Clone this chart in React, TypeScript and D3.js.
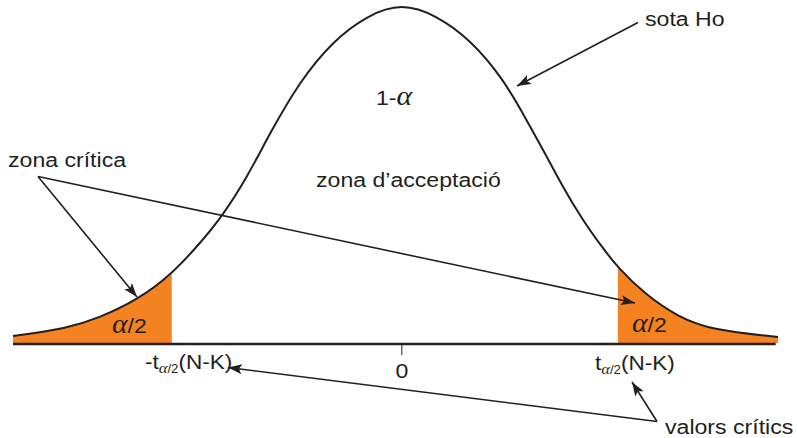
import React from "react";
import * as d3 from "d3";

// Density curve points (x in t-units, y relative to peak)
const curveX = [-3.38, -2.91, -2.63, -2.3, -2.0, -1.757, -1.565, -1.34, -1.148, -0.887, -0.6, -0.3, 0, 0.3, 0.6, 0.887, 1.096, 1.243, 1.391, 1.565, 1.739, 1.878, 2.113, 2.4, 2.696, 3.27];
const curveY = [0.003, 0.026, 0.058, 0.112, 0.19, 0.283, 0.364, 0.487, 0.617, 0.775, 0.897, 0.975, 1.012, 0.975, 0.9, 0.78, 0.65, 0.558, 0.46, 0.358, 0.273, 0.21, 0.13, 0.061, 0.021, 0.0];
const criticalLow = -2.0;
const criticalHigh = 1.878;
const tickValues = [0];
const tickLabels = ["0"];

const W = 797;
const H = 438;
const INK = "#231F20";
const ORANGE = "#F58220";
const SANS = "'Liberation Sans', Arial, Helvetica, sans-serif";
const SERIF = "'Liberation Serif', 'Times New Roman', serif";
const SX = 1.1;

type P = [number, number];

function Label({ x, y, children, anchor = "start", size = 21 }: any) {
  return (
    <g transform={`translate(${x},${y}) scale(${SX},1)`}>
      <text x={0} y={0} fontFamily={SANS} fontSize={size} fill={INK} textAnchor={anchor}>
        {children}
      </text>
    </g>
  );
}

function Arrow({ x1, y1, x2, y2 }: any) {
  return <line x1={x1} y1={y1} x2={x2} y2={y2} stroke={INK} strokeWidth={1.6} markerEnd="url(#ah)" />;
}

function CritLabel({ x, y, prefix }: any) {
  return (
    <g transform={`translate(${x},${y}) scale(${SX},1)`}>
      <text fontFamily={SANS} fontSize={20.5} fill={INK}>
        {prefix}
        <tspan dy={4} fontFamily={SERIF} fontStyle="italic" fontSize={15}>α</tspan>
        <tspan fontSize={12}>/2</tspan>
        <tspan dy={-4}>(N-K)</tspan>
      </text>
    </g>
  );
}

export default function App() {
  const x = d3.scaleLinear().domain([-3.38, 3.27]).range([13, 778]);
  const y = d3.scaleLinear().domain([0, 1]).range([337, 7]);
  const axisY = 344;

  const pts: P[] = curveX.map((v, i) => [v, curveY[i]]);
  const line = d3
    .line<P>()
    .x((d) => x(d[0]))
    .y((d) => y(d[1]))
    .curve(d3.curveBasis);
  const area = d3
    .area<P>()
    .x((d) => x(d[0]))
    .y0(axisY - 1)
    .y1((d) => y(d[1]))
    .curve(d3.curveBasis);

  const leftPts = pts.filter((d) => d[0] <= criticalLow);
  const rightPts = pts.filter((d) => d[0] >= criticalHigh);

  return (
    <svg width={W} height={H} style={{ position: "absolute", left: 0, top: 0, background: "#fff" }}>
      <defs>
        <marker id="ah" markerUnits="userSpaceOnUse" markerWidth={16} markerHeight={12} refX={14} refY={5} orient="auto">
          <path d="M0,0 L14,5 L0,10 L3,5 Z" fill={INK} />
        </marker>
      </defs>

      <path d={area(leftPts) || ""} fill={ORANGE} />
      <path d={area(rightPts) || ""} fill={ORANGE} />
      <path d={line(pts) || ""} fill="none" stroke={INK} strokeWidth={2} />

      <line x1={x(-3.38)} x2={x(3.25)} y1={axisY} y2={axisY} stroke={INK} strokeWidth={2.4} />
      {tickValues.map((t, i) => (
        <g key={i}>
          <line x1={x(t)} x2={x(t)} y1={axisY} y2={axisY + 11} stroke={INK} strokeWidth={1} />
          <Label x={x(t)} y={378} anchor="middle">{tickLabels[i]}</Label>
        </g>
      ))}

      <CritLabel x={145} y={368.5} prefix="-t" />
      <CritLabel x={595} y={369.5} prefix="t" />

      {[
        [112, 332.5],
        [632, 331.5],
      ].map(([lx, ly], i) => (
        <g key={i} transform={`translate(${lx},${ly}) scale(${SX},1)`}>
          <text fontFamily={SANS} fontSize={21} fill={INK}>
            <tspan fontFamily={SERIF} fontStyle="italic" fontSize={27}>α</tspan>
            <tspan>/2</tspan>
          </text>
        </g>
      ))}

      <g transform={`translate(376,105) scale(${SX},1)`}>
        <text fontFamily={SANS} fontSize={21} fill={INK}>
          1-
          <tspan fontFamily={SERIF} fontStyle="italic" fontSize={27}>α</tspan>
        </text>
      </g>
      <Label x={316} y={187}>zona d’acceptació</Label>
      <Label x={645} y={26}>sota Ho</Label>
      <Label x={8} y={166.5}>zona crítica</Label>
      <Label x={665} y={434}>valors crítics</Label>

      <Arrow x1={638} y1={22.5} x2={517} y2={86} />
      <Arrow x1={38} y1={176.5} x2={137} y2={297} />
      <Arrow x1={38} y1={176.5} x2={635} y2={303} />
      <Arrow x1={657} y1={421.5} x2={632} y2={382} />
      <Arrow x1={657} y1={421.5} x2={228} y2={367.5} />
    </svg>
  );
}
